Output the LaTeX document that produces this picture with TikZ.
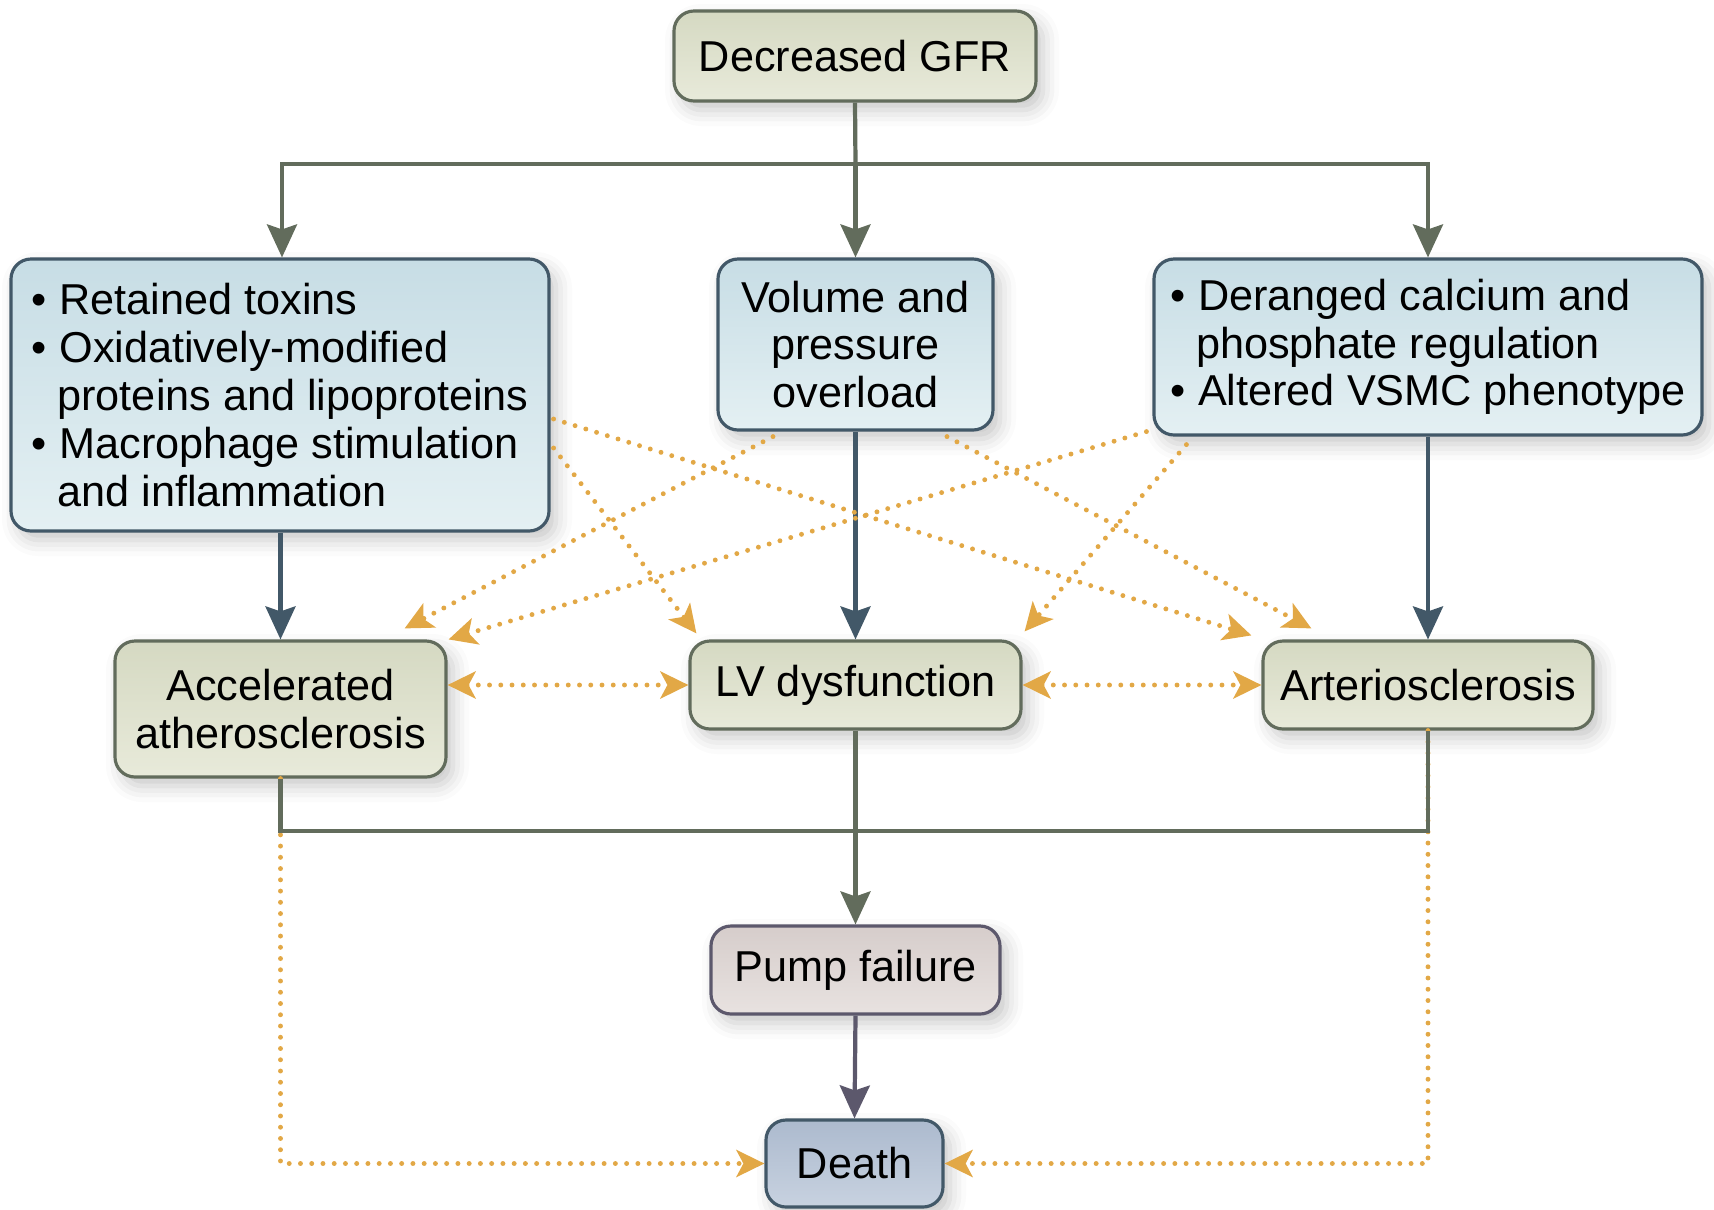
\documentclass[tikz,border=0pt]{standalone}
\usepackage{fontspec}
\setmainfont{Liberation Sans}
\usetikzlibrary{calc}
\usetikzlibrary{arrows.meta}
\usetikzlibrary{shadows.blur}

\definecolor{greentop}{RGB}{213,217,194}
\definecolor{greenbot}{RGB}{232,234,218}
\definecolor{greenline}{RGB}{98,108,92}
\definecolor{bluetop}{RGB}{199,221,229}
\definecolor{bluebot}{RGB}{228,240,243}
\definecolor{blueline}{RGB}{66,88,104}
\definecolor{pumptop}{RGB}{214,205,203}
\definecolor{pumpbot}{RGB}{232,226,224}
\definecolor{deathtop}{RGB}{172,186,206}
\definecolor{deathbot}{RGB}{200,210,224}
\definecolor{greyline}{RGB}{92,88,108}
\definecolor{dotorange}{RGB}{226,168,70}

\newcommand{\bpt}{\makebox[0.28cm][l]{\textbullet}}
\newcommand{\bcont}{\hspace*{0.26cm}}

\begin{document}
\begin{tikzpicture}[
  font=\fontsize{12.3}{13.6}\selectfont,
  box/.style={rounded corners=2mm, line width=0.9pt, inner sep=0pt,
    blur shadow={shadow xshift=0.7mm, shadow yshift=-0.9mm, shadow blur radius=1.6mm, shadow opacity=22}},
  greenbox/.style={box, draw=greenline, top color=greentop, bottom color=greenbot, align=center},
  bluebox/.style={box, draw=blueline, top color=bluetop, bottom color=bluebot},
  feed/.style={line width=1.2pt, draw=greenline, -{Stealth[length=3.3mm,width=3mm,inset=0.5mm]}},
  bluefeed/.style={feed, draw=blueline},
  dotarr/.style={draw=dotorange, line width=1.4pt, line cap=round, dash pattern=on 0pt off 3.2pt,
    -{Stealth[length=2.8mm,width=2.7mm,inset=0.7mm,fill=dotorange,line cap=butt]}},
  dotboth/.style={dotarr, {Stealth[length=2.8mm,width=2.7mm,inset=0.7mm,fill=dotorange]}-{Stealth[length=2.8mm,width=2.7mm,inset=0.7mm,fill=dotorange]}}
]
\useasboundingbox (0,0) rectangle (17.14,-12.09);

% boxes
\node[greenbox, minimum width=3.62cm, minimum height=0.90cm] (gfr) at (8.55,-0.56) {Decreased GFR};

\node[bluebox, minimum width=5.38cm, minimum height=2.72cm, align=left] (toxins) at (2.80,-3.95)
  {\bpt Retained toxins\\ \bpt Oxidatively-modified\\ \bcont proteins and lipoproteins\\ \bpt Macrophage stimulation\\ \bcont and inflammation};
\node[bluebox, minimum width=2.75cm, minimum height=1.71cm, align=center] (volume) at (8.555,-3.445)
  {Volume and\\ pressure\\ overload};
\node[bluebox, minimum width=5.48cm, minimum height=1.76cm, align=left] (calcium) at (14.28,-3.47)
  {\bpt Deranged calcium and\\ \bcont phosphate regulation\\ \bpt Altered VSMC phenotype};

\node[greenbox, minimum width=3.31cm, minimum height=1.36cm] (athero) at (2.805,-7.09) {Accelerated\\ atherosclerosis};
\node[greenbox, minimum width=3.31cm, minimum height=0.88cm] (lv) at (8.555,-6.85) {LV dysfunction};
\node[greenbox, minimum width=3.30cm, minimum height=0.88cm] (arterio) at (14.28,-6.85) {Arteriosclerosis};

\node[box, draw=greyline, top color=pumptop, bottom color=pumpbot, minimum width=2.89cm, minimum height=0.88cm] (pump) at (8.555,-9.70) {Pump failure};
\node[box, draw=blueline, top color=deathtop, bottom color=deathbot, minimum width=1.77cm, minimum height=0.87cm] (death) at (8.545,-11.635) {Death};

% solid connectors
\coordinate (split) at (8.555,-1.64);
\coordinate (join) at (8.555,-8.31);
\draw[greenline, line width=1.2pt] (gfr.south) -- (split);
\draw[feed] (split) -| (toxins.north -| 2.82,0);
\draw[feed] (split) -| (calcium.north);
\draw[feed] (split) -- (volume.north);

\draw[bluefeed] (toxins.south -| athero.north) -- (athero.north);
\draw[bluefeed] (volume.south) -- (lv.north);
\draw[bluefeed] (calcium.south) -- (arterio.north);

\draw[dotarr] (athero.south) |- (death.west);
\draw[dotarr] (arterio.south) |- (death.east);
\draw[greenline, line width=1.2pt] (athero.south) |- (join) -| (arterio.south);
\draw[feed] (lv.south) -- (pump.north);
\draw[feed, draw=greyline] (pump.south) -- (death.north);

% dotted cross links
\draw[dotboth] (athero.east |- lv.west) -- (lv.west);
\draw[dotboth] (lv.east) -- (arterio.west);

\draw[dotarr] ($(toxins.east)+(0.03,-0.24)$) -- ($(arterio.north west)+(-0.10,0.04)$);
\draw[dotarr] ($(toxins.east)+(0.03,-0.53)$) -- ($(lv.north west)+(0.08,0.06)$);
\draw[dotarr] ($(volume.south)+(-0.825,-0.05)$) -- ($(athero.north east)+(-0.43,0.11)$);
\draw[dotarr] ($(volume.south)+(0.915,-0.05)$) -- ($(arterio.north west)+(0.50,0.11)$);
\draw[dotarr] ($(calcium.south west)+(-0.06,0.05)$) -- ($(athero.north east)+(0.01,0)$);
\draw[dotarr] ($(calcium.south west)+(0.34,-0.08)$) -- ($(lv.north east)+(0.02,0.08)$);

\end{tikzpicture}
\end{document}
